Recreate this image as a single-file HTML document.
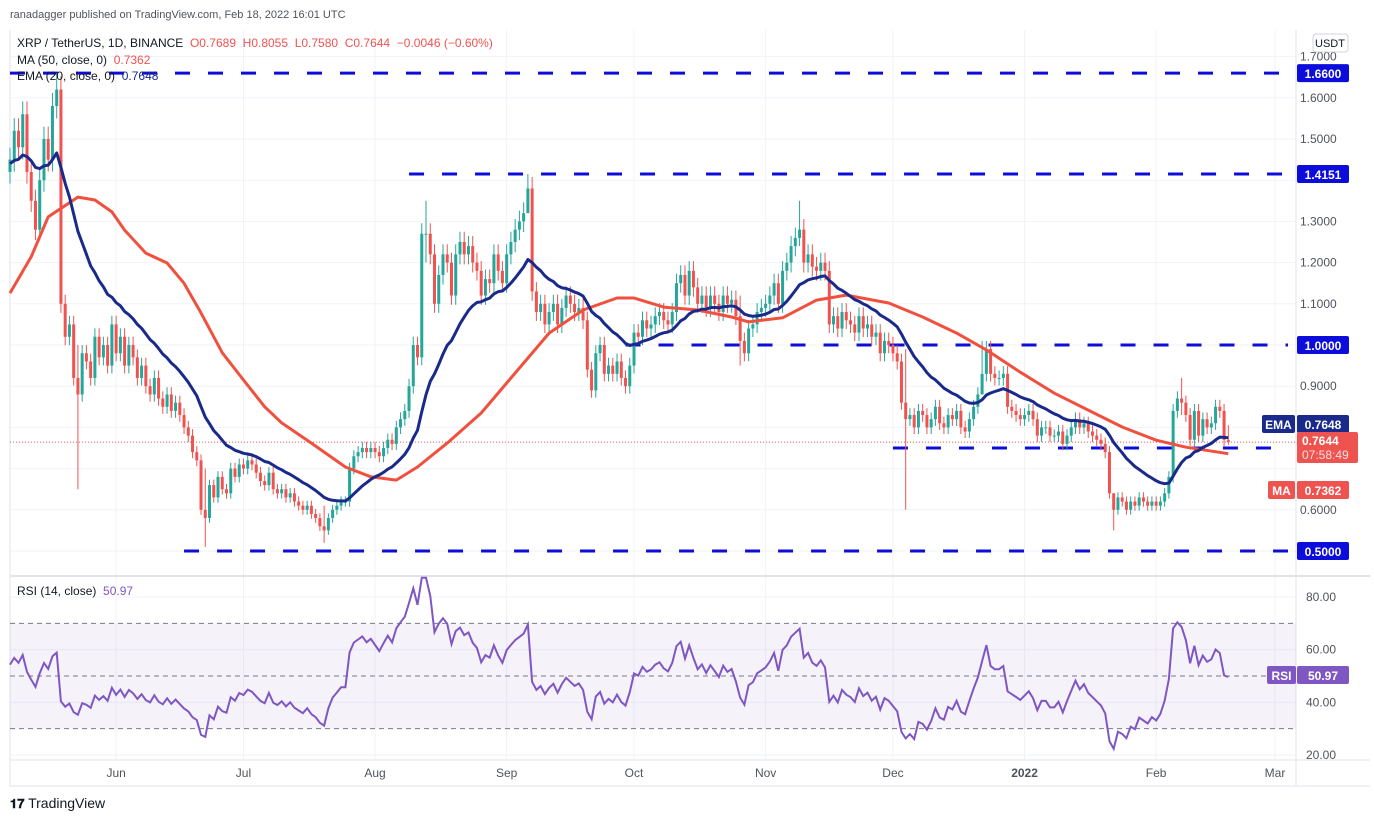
<!DOCTYPE html>
<html><head><meta charset="utf-8"><style>
html,body{margin:0;padding:0;background:#fff;}
body{width:1374px;height:822px;overflow:hidden;font-family:"Liberation Sans",sans-serif;}
svg text{font-family:"Liberation Sans",sans-serif;}
</style></head><body>
<svg id="chart" width="1374" height="822" viewBox="0 0 1374 822" xmlns="http://www.w3.org/2000/svg">
<rect x="0" y="0" width="1374" height="822" fill="#fff"/>
<text x="10" y="18" font-size="11" fill="#50535e">ranadagger published on TradingView.com, Feb 18, 2022 16:01 UTC</text>
<g id="grid"></g>
<g id="levels"></g>
<g id="candles"></g>
<g id="lines"></g>
<g id="rsi"></g>
<g id="axes"></g>
<g id="labels"></g>
</svg>
<script>
const closes = [
1.45,1.52,1.48,1.56,1.42,1.35,1.28,1.40,1.50,1.45,1.58,1.62,1.10,1.02,1.05,0.92,0.88,0.98,0.96,0.92,1.02,0.97,1.00,0.95,1.05,
0.98,1.02,0.95,1.00,0.97,0.92,0.95,0.90,0.88,0.92,0.87,0.85,0.88,0.84,0.86,0.83,0.80,0.78,0.74,0.72,0.60,0.58,0.66,0.63,0.68,0.65,0.64,0.70,0.68,0.71,
0.70,0.72,0.71,0.69,0.67,0.66,0.69,0.65,0.64,0.65,0.63,0.64,0.62,0.61,0.60,0.61,0.59,0.58,0.56,0.55,0.58,0.60,0.61,0.62,0.62,0.70,0.73,0.74,0.75,0.74,0.75,
0.74,0.73,0.75,0.77,0.76,0.80,0.82,0.84,0.90,1.00,0.97,1.27,1.27,1.22,1.10,1.17,1.22,1.20,1.12,1.22,1.25,1.22,1.24,1.20,1.18,1.12,1.16,1.15,1.22,1.18,1.15,
1.22,1.25,1.28,1.30,1.32,1.38,1.13,1.08,1.10,1.05,1.08,1.10,1.05,1.09,1.12,1.10,1.08,1.09,1.06,0.94,0.89,0.98,1.00,0.93,0.95,0.93,0.96,0.92,0.90,0.95,
1.03,1.02,1.06,1.04,1.05,1.07,1.08,1.06,1.05,1.08,1.15,1.17,1.12,1.18,1.14,1.10,1.12,1.09,1.12,1.10,1.08,1.12,1.10,1.11,1.07,1.01,0.98,1.04,1.05,1.08,1.09,
1.10,1.12,1.15,1.10,1.18,1.20,1.24,1.26,1.28,1.20,1.22,1.19,1.18,1.20,1.18,1.05,1.07,1.04,1.08,1.06,1.05,1.03,1.07,1.04,1.05,1.02,1.03,0.98,1.01,1.00,
0.98,0.96,0.86,0.82,0.83,0.80,0.84,0.83,0.80,0.82,0.85,0.81,0.80,0.83,0.82,0.84,0.80,0.79,0.82,0.85,0.88,0.93,0.99,0.93,0.92,0.92,0.93,0.85,0.84,0.83,0.82,
0.83,0.84,0.82,0.78,0.80,0.80,0.78,0.78,0.79,0.76,0.78,0.80,0.82,0.80,0.81,0.79,0.78,0.77,0.76,0.74,0.64,0.60,0.63,0.62,0.60,0.62,0.61,0.63,0.62,0.61,0.62,
0.61,0.62,0.64,0.68,0.84,0.87,0.86,0.83,0.77,0.84,0.78,0.82,0.80,0.81,0.85,0.84,0.77,0.7644
];
const firstOpen = 1.42;
const lastOpen = 0.7689;
const wickIdx = [11,16,46,74,98,122,172,186,211,229,260,276,287];
const wickHigh = [1.66,1.00,0.70,0.61,1.35,1.415,1.12,1.35,0.99,1.01,0.64,0.92,0.8055];
const wickLow  = [1.55,0.65,0.51,0.52,1.20,1.36,0.95,1.24,0.60,0.93,0.55,0.83,0.7580];
const maIdx  = [0,5,9,16,20,24,27,32,37,41,45,50,55,60,64,71,79,85,91,96,103,111,119,127,135,143,147,154,162,170,174,182,190,197,207,215,223,230,238,246,254,262,270,277,287];
const maVals = [1.126,1.214,1.311,1.359,1.352,1.323,1.279,1.223,1.199,1.150,1.078,0.981,0.915,0.850,0.811,0.762,0.704,0.680,0.672,0.704,0.762,0.835,0.932,1.029,1.085,1.114,1.114,1.092,1.085,1.068,1.056,1.066,1.109,1.121,1.102,1.068,1.029,0.988,0.934,0.883,0.842,0.801,0.769,0.752,0.7362];
const emaSeed = 1.44;
const levels = [1.66,1.4151,1.0,0.75,0.5];
const levelStartIdx = [0,94,145,208,41];
const priceTicks = [1.7,1.6,1.5,1.3,1.2,1.1,0.9,0.6];
const rsiTicks = [80,60,40,20];
const monthLabels = ["Jun","Jul","Aug","Sep","Oct","Nov","Dec","2022","Feb","Mar"];
const monthIdx = [25,55,86,117,147,178,208,239,270,298];

const NS="http://www.w3.org/2000/svg";
const X0=10, STEP=4.245, PLOT_R=1296;
function xI(i){return X0+i*STEP;}
function yP(p){return 345-(p-1)*412;}
function yR(r){return 755-(r-20)*2.633;}
function mk(tag,attrs,parent,name,inter){const e=document.createElementNS(NS,tag);for(const k in attrs)e.setAttribute(k,attrs[k]);


parent.appendChild(e);return e;}
const G=id=>document.getElementById(id);

const grid=G('grid');
monthIdx.forEach((m,k)=>{const x=xI(m);
 mk('line',{x1:x,x2:x,y1:30,y2:760,stroke:'#f0f3fa','stroke-width':1},grid,'grid-vline-'+k,false);});
[1.7,1.6,1.5,1.4,1.3,1.2,1.1,1.0,0.9,0.8,0.7,0.6,0.5].forEach((p,k)=>{
 mk('line',{x1:10,x2:PLOT_R,y1:yP(p),y2:yP(p),stroke:'#f0f3fa','stroke-width':1},grid,'grid-hline-'+k,false);});
rsiTicks.forEach((r,k)=>mk('line',{x1:10,x2:PLOT_R,y1:yR(r),y2:yR(r),stroke:'#f0f3fa'},grid,'rsi-grid-'+k,false));
mk('line',{x1:PLOT_R,x2:PLOT_R,y1:30,y2:786,stroke:'#e0e3eb'},grid,'price-axis-border',false);
mk('line',{x1:10,x2:1370,y1:576,y2:576,stroke:'#e0e3eb','stroke-width':2},grid,'pane-divider',false);
mk('line',{x1:10,x2:1370,y1:760,y2:760,stroke:'#e0e3eb'},grid,'time-axis-border',false);
mk('line',{x1:10,x2:1370,y1:786,y2:786,stroke:'#e0e3eb'},grid,'bottom-border',false);
mk('line',{x1:10,x2:10,y1:30,y2:786,stroke:'#e0e3eb'},grid,'left-border',false);

const lv=G('levels');
levels.forEach((p,k)=>{mk('line',{x1:xI(levelStartIdx[k]),x2:1288,y1:yP(p),y2:yP(p),stroke:'#0d0ddb','stroke-width':3,'stroke-dasharray':'15,18'},lv,'support-resistance-'+p,false);});
mk('line',{x1:10,x2:PLOT_R,y1:yP(closes[closes.length-1]),y2:yP(closes[closes.length-1]),stroke:'#ef5350','stroke-width':1,'stroke-dasharray':'1,2'},lv,'last-price-line',false);

const cg=G('candles');
for(let i=0;i<closes.length;i++){
 const o=i===0?firstOpen:(i===closes.length-1?lastOpen:closes[i-1]);
 const c=closes[i];
 let h=Math.max(o,c)*1.02, l=Math.min(o,c)*0.98;
 const w=wickIdx.indexOf(i); if(w>=0){h=wickHigh[w];l=wickLow[w];}
 const col=c>=o?'#26a69a':'#ef5350';
 const x=xI(i);
 const g=mk('g',{},cg,'candle-'+i,false);
 mk('line',{x1:x,x2:x,y1:yP(h),y2:yP(l),stroke:col,'stroke-width':1},g,'candle-wick',false);
 const top=yP(Math.max(o,c)), bot=yP(Math.min(o,c));
 mk('rect',{x:x-1.5,y:top,width:3,height:Math.max(1,bot-top),fill:col},g,'candle-body',false);
}

const lg=G('lines');
let ma='';maIdx.forEach((d,k)=>{ma+=(k?'L':'M')+xI(d).toFixed(1)+','+yP(maVals[k]).toFixed(1);});
mk('path',{d:ma,fill:'none',stroke:'#f0513f','stroke-width':3,'stroke-linejoin':'round'},lg,'ma-50-line',false);
let e=emaSeed,ed='';const a=2/21;
closes.forEach((c,i)=>{e=i===0?emaSeed:e+a*(c-e);ed+=(i?'L':'M')+xI(i).toFixed(1)+','+yP(e).toFixed(1);});
mk('path',{d:ed,fill:'none',stroke:'#1a2a8a','stroke-width':3,'stroke-linejoin':'round'},lg,'ema-20-line',false);

const rg=G('rsi');
mk('rect',{x:10,y:yR(70),width:PLOT_R-10,height:yR(30)-yR(70),fill:'rgba(126,87,194,0.08)'},rg,'rsi-band',false);
[70,50,30].forEach(r=>mk('line',{x1:10,x2:PLOT_R,y1:yR(r),y2:yR(r),stroke:'#787b86','stroke-dasharray':'5,4'},rg,'rsi-level-'+r,false));
let ag=0.05,al=0.042,rd='';
closes.forEach((c,i)=>{if(i>0){const d=c-closes[i-1];ag=(ag*13+Math.max(d,0))/14;al=(al*13+Math.max(-d,0))/14;}
 const r=100-100/(1+ag/al);rd+=(i?'L':'M')+xI(i).toFixed(1)+','+yR(r).toFixed(1);});
mk('path',{d:rd,fill:'none',stroke:'#7e57c2','stroke-width':2},rg,'rsi-line',false);

const ax=G('axes');
priceTicks.forEach(p=>{const t=mk('text',{x:1300,y:yP(p)+4,'font-size':12,fill:'#50535e'},ax,'price-tick',false);t.textContent=p.toFixed(4);});
rsiTicks.forEach(r=>{const t=mk('text',{x:1306,y:yR(r)+4,'font-size':12,fill:'#50535e'},ax,'rsi-tick',false);t.textContent=r.toFixed(2);});
monthLabels.forEach((m,k)=>{const t=mk('text',{x:xI(monthIdx[k]),y:777,'font-size':12,fill:'#50535e','text-anchor':'middle','font-weight':m==='2022'?'bold':'normal'},ax,'time-tick',false);t.textContent=m;});

const lb=G('labels');
function box(y,txt,bg,name,x,w,fg){mk('rect',{x:x,y:y-9,width:w,height:18,fill:bg,rx:2},lb,name+'-box',false);
 const t=mk('text',{x:x+w/2,y:y+5,'font-size':12,fill:fg||'#fff','text-anchor':'middle','font-weight':'bold'},lb,name+'-text',false);t.textContent=txt;}
levels.forEach(p=>box(yP(p),p.toFixed(4),'#0d0ddb','level-label-'+p,1297,52));
box(424,'0.7648','#1a2a8a','ema-value',1297,52);
box(424,'EMA','#1a2a8a','ema-tag',1262,33);
mk('rect',{x:1297,y:432,width:61,height:31,fill:'#ef5350',rx:2},lb,'last-price-box',false);
let t=mk('text',{x:1302,y:445,'font-size':12,fill:'#fff','font-weight':'bold'},lb,'last-price-text',false);t.textContent='0.7644';
t=mk('text',{x:1302,y:459,'font-size':12,fill:'#fde0df'},lb,'countdown-text',false);t.textContent='07:58:49';
box(490,'0.7362','#ef5350','ma-value',1297,52);
box(490,'MA','#ef5350','ma-tag',1268,27);
box(675,'50.97','#7e57c2','rsi-value',1297,52);
box(675,'RSI','#7e57c2','rsi-tag',1267,29);
mk('rect',{x:1313,y:34,width:35,height:18,fill:'#fff',stroke:'#d1d4dc',rx:3},lb,'currency-box',true);
t=mk('text',{x:1330,y:47,'font-size':11,fill:'#131722','text-anchor':'middle'},lb,'currency-label',false);t.textContent='USDT';
</script>
<div style="position:absolute;left:17px;top:35px;font-size:12px;line-height:16.5px;color:#131722;">
<div>XRP / TetherUS, 1D, BINANCE &nbsp;<span style="color:#ef5350">O0.7689 &nbsp;H0.8055 &nbsp;L0.7580 &nbsp;C0.7644 &nbsp;−0.0046 (−0.60%)</span></div>
<div>MA (50, close, 0) &nbsp;<span style="color:#ef5350">0.7362</span></div>
<div>EMA (20, close, 0) &nbsp;<span style="color:#1a2a8a">0.7648</span></div>
</div>
<div style="position:absolute;left:17px;top:584px;font-size:12px;color:#131722;">RSI (14, close) &nbsp;<span style="color:#7e57c2">50.97</span></div>
<div style="position:absolute;left:10px;top:795px;font-size:14px;color:#131722;"><b style="font-size:13px">𝟏𝟕</b> TradingView</div>
</body></html>
